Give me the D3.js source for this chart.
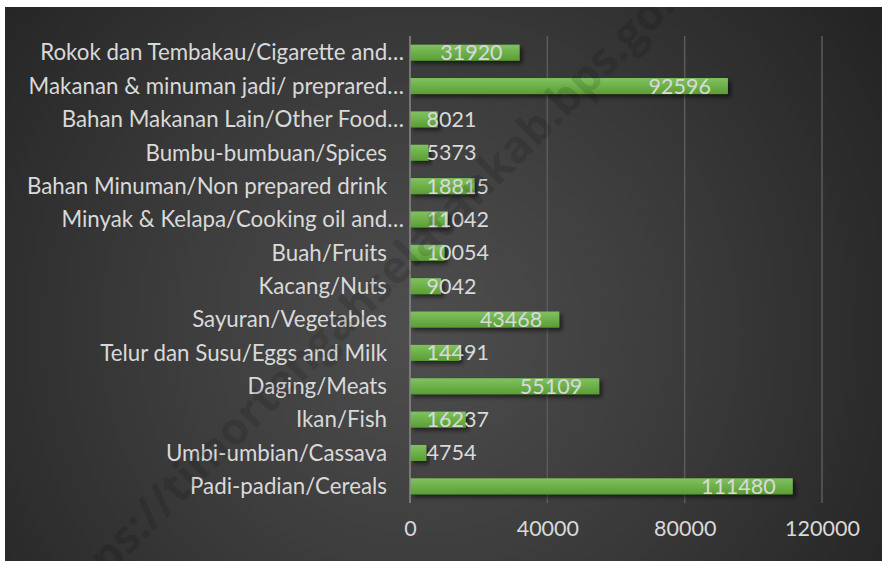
<!DOCTYPE html>
<html><head><meta charset="utf-8">
<script src="https://cdn.jsdelivr.net/npm/d3@7"></script>
<style>
html,body{margin:0;padding:0;background:#fff;}
svg{display:block;}
</style></head>
<body>
<script>
const categories = [
  "Rokok dan Tembakau/Cigarette and…",
  "Makanan & minuman jadi/ preprared…",
  "Bahan Makanan Lain/Other Food…",
  "Bumbu-bumbuan/Spices",
  "Bahan Minuman/Non prepared drink",
  "Minyak & Kelapa/Cooking oil and…",
  "Buah/Fruits",
  "Kacang/Nuts",
  "Sayuran/Vegetables",
  "Telur dan Susu/Eggs and Milk",
  "Daging/Meats",
  "Ikan/Fish",
  "Umbi-umbian/Cassava",
  "Padi-padian/Cereals"
];
const values = [31920, 92596, 8021, 5373, 18815, 11042, 10054, 9042, 43468, 14491, 55109, 16237, 4754, 111480];
const tickValues = [0, 40000, 80000, 120000];
const watermark = "https://timortengahselatankab.bps.go.id";

const W = 882, H = 561;
const FONT = "Lato, 'Open Sans', sans-serif";
const FS = 21.5;
const FS_CAT = 22.3;
const TXT = "#d9d9d9";

const svg = d3.select("body").append("svg").attr("width", W).attr("height", H);
const defs = svg.append("defs");

const bg = defs.append("radialGradient").attr("id","bg")
  .attr("gradientUnits","userSpaceOnUse").attr("cx",420).attr("cy",330).attr("r",560);
bg.append("stop").attr("offset","0").attr("stop-color","#4e4e4e");
bg.append("stop").attr("offset","0.45").attr("stop-color","#3c3c3c");
bg.append("stop").attr("offset","1").attr("stop-color","#232323");

const bar = defs.append("linearGradient").attr("id","bar").attr("x1",0).attr("y1",0).attr("x2",0).attr("y2",1);
bar.append("stop").attr("offset","0").attr("stop-color","#80c260");
bar.append("stop").attr("offset","1").attr("stop-color","#5a9e33");

const sh = defs.append("filter").attr("id","sh").attr("x","-10%").attr("y","-50%").attr("width","130%").attr("height","250%");
sh.append("feDropShadow").attr("dx",3).attr("dy",3).attr("stdDeviation",2.2)
  .attr("flood-color","#000").attr("flood-opacity",0.55);

svg.append("rect").attr("x",5).attr("y",7).attr("width",W-5).attr("height",H-7).attr("fill","url(#bg)");

const x = d3.scaleLinear().domain([0,120000]).range([410,822]);
const y = d3.scaleBand().domain(categories).range([36,503]).paddingInner(0.52).paddingOuter(0.26);

// gridlines
svg.append("g").selectAll("line").data(tickValues.slice(1)).join("line")
  .attr("x1",d=>x(d)).attr("x2",d=>x(d)).attr("y1",36).attr("y2",503)
  .attr("stroke","#5b5b5b").attr("stroke-width",1.5);

// bars
svg.append("g").selectAll("rect").data(values).join("rect")
  .attr("x",x(0)).attr("y",(d,i)=>y(categories[i]))
  .attr("width",d=>x(d)-x(0)).attr("height",y.bandwidth())
  .attr("fill","url(#bar)").attr("filter","url(#sh)");

// axis line
svg.append("line").attr("x1",x(0)).attr("x2",x(0)).attr("y1",36).attr("y2",503)
  .attr("stroke","#8a8a8a").attr("stroke-width",1.5);

// x axis tick labels
const xAxis = d3.axisBottom(x).tickValues(tickValues).tickFormat(d3.format("d")).tickSize(0).tickPadding(0);
const gx = svg.append("g").attr("transform","translate(0,521)").call(xAxis);
gx.select(".domain").remove();
gx.selectAll("text").attr("font-family",FONT).attr("font-size",FS).attr("fill",TXT).attr("dy","0.71em");

// category labels
const yAxis = d3.axisLeft(y).tickSize(0).tickPadding(0);
const gy = svg.append("g").attr("transform","translate(387,0)").call(yAxis);
gy.select(".domain").remove();
gy.selectAll("text").attr("font-family",FONT).attr("font-size",FS_CAT).attr("fill",TXT)
  .attr("x", d => d.endsWith("…") ? 17 : 0).attr("dy","0.35em");

// data labels
const lab = svg.append("g").selectAll("text").data(values).join("text")
  .attr("font-family",FONT).attr("font-size",FS).attr("fill",TXT)
  .attr("y",(d,i)=>y(categories[i])+y.bandwidth()/2).attr("dy","0.35em")
  .text(d=>d);
lab.each(function(d){
  const w = this.getComputedTextLength();
  const left = Math.max(x(0)+16.5, x(d)-17-w);
  d3.select(this).attr("x", left);
});

// watermark (clipped by the chart edges, as in the reference)
defs.append("clipPath").attr("id","clip").append("rect")
  .attr("x",5).attr("y",7).attr("width",W-5).attr("height",H-7);
svg.append("g").attr("clip-path","url(#clip)")
  .append("text").attr("transform","translate(372,290) rotate(-45)")
  .attr("text-anchor","middle").attr("dy","0.35em")
  .attr("font-family","'Open Sans', sans-serif").attr("font-weight","bold").attr("font-size",45)
  .attr("fill","#000").attr("fill-opacity",0.14).text(watermark);
</script>
</body></html>
